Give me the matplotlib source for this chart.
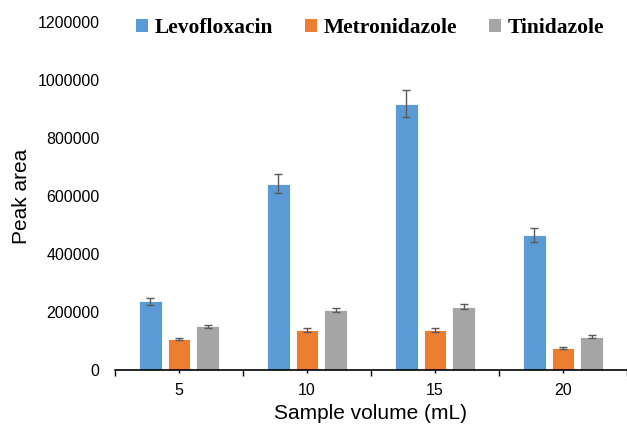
import matplotlib
matplotlib.use("Agg")
import matplotlib.pyplot as plt
import numpy as np
from matplotlib.patches import Patch
from matplotlib.ticker import FixedLocator

# data
volumes = ["5", "10", "15", "20"]
series = ["Levofloxacin", "Metronidazole", "Tinidazole"]
levo = [237000, 643000, 918000, 464000]
levo_err = [12000, 32000, 46000, 24000]
metro = [106000, 138000, 138000, 75000]
metro_err = [4000, 6000, 6000, 3000]
tini = [151000, 207000, 218000, 115000]
tini_err = [5000, 8000, 8000, 5000]

colors = ["#5B9BD5", "#ED7D31", "#A5A5A5"]

fig = plt.figure(figsize=(6.27, 4.25), dpi=100)
ax = fig.add_axes([0.1834, 0.1294, 0.8166, 0.8188])

x = np.arange(len(volumes))
w = 0.176
off = 0.223
for i, (vals, errs) in enumerate([(levo, levo_err), (metro, metro_err), (tini, tini_err)]):
    ax.bar(x + (i - 1) * off, vals, w, color=colors[i], edgecolor="white", linewidth=0.6,
           yerr=errs, error_kw=dict(ecolor="#595959", elinewidth=1.0, capsize=3, capthick=1.0),
           zorder=2)

ax.set_xlim(-0.5, 3.5)
ax.set_ylim(0, 1200000)
ax.set_yticks(np.arange(0, 1200001, 200000))
ax.set_yticklabels([str(v) for v in range(0, 1200001, 200000)])
ax.set_xticks(x)
ax.set_xticklabels(volumes)
ax.xaxis.set_minor_locator(FixedLocator(np.arange(-0.5, 3.6, 1.0)))

for s in ["top", "right", "left"]:
    ax.spines[s].set_visible(False)
ax.spines["bottom"].set_linewidth(1.2)
ax.tick_params(axis="y", length=0, pad=11, labelsize=11.5, colors="#000000")
ax.tick_params(axis="x", which="major", length=2.5, width=1.0, pad=7, labelsize=11.5)
ax.tick_params(axis="x", which="minor", length=4.5, width=1.0)

for lab in ax.get_xticklabels() + ax.get_yticklabels():
    lab.set_fontfamily("Liberation Sans")

ax.set_xlabel("Sample volume (mL)", fontsize=15, fontfamily="Liberation Sans", labelpad=4)
ax.set_ylabel("Peak area", fontsize=15, fontfamily="Liberation Sans", labelpad=5)

handles = [Patch(facecolor=c, edgecolor="none") for c in colors]
fig.legend(handles, series, loc="center", bbox_to_anchor=(370 / 627, 1 - 28 / 425), ncol=3,
           frameon=False, handlelength=0.55, handleheight=0.55, handletextpad=0.3,
           columnspacing=1.5, prop=dict(family="Liberation Serif", weight="bold", size=15.5))

fig.savefig("out.png", dpi=100)
